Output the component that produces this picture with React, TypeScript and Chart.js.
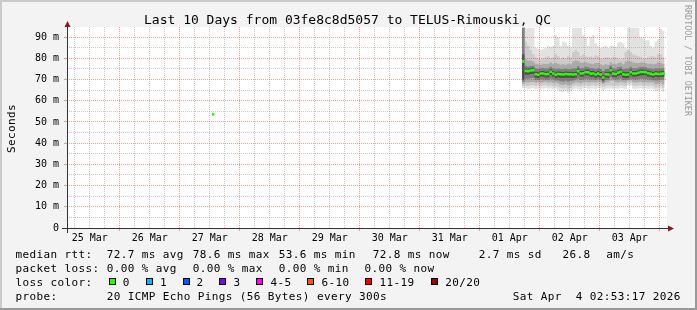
import React, { useEffect, useRef } from 'react';
import { Chart, registerables } from 'chart.js';

Chart.register(...registerables);

const W = 697;
const H = 310;
const MONO = '"DejaVu Sans Mono", "Liberation Mono", monospace';

// ---------- text ----------
const titleText = 'Last 10 Days from 03fe8c8d5057 to TELUS-Rimouski, QC';
const yAxisTitle = 'Seconds';
const watermark = 'RRDTOOL / TOBI OETIKER';
const rttLabel = 'median rtt:';
const rttStats = ['72.7 ms avg', '78.6 ms max', '53.6 ms min', '72.8 ms now', '2.7 ms sd', '26.8', 'am/s'];
const lossLabel = 'packet loss:';
const lossStats = ['0.00 % avg', '0.00 % max', '0.00 % min', '0.00 % now'];
const lossColorLabel = 'loss color:';
const lossLabels = ['0', '1', '2', '3', '4-5', '6-10', '11-19', '20/20'];
const lossColors = ['#26ff00', '#00b8ff', '#0059ff', '#7e00ff', '#ff00ff', '#ff5500', '#ff0000', '#a10000'];
const probeLabel = 'probe:';
const probeText = '20 ICMP Echo Pings (56 Bytes) every 300s';
const timestampText = 'Sat Apr  4 02:53:17 2026';

// ---------- axes ----------
// x = hours since Wed Mar 25 02:53:17 2026 (10 day window)
const rangeHours = 240;
const firstSixHourMark = 3.1119; // Mar 25 06:00
const dayLabels = ['25 Mar', '26 Mar', '27 Mar', '28 Mar', '29 Mar', '30 Mar', '31 Mar', '01 Apr', '02 Apr', '03 Apr'];
// 6-hourly marks: 06:00, 12:00 (labelled), 18:00 minor; 00:00 major
const xMinorHours: number[] = [];
const xMinorLabels: string[] = [];
const xMajorHours: number[] = [];
for (let k = 0; firstSixHourMark + 6 * k < rangeHours; k++) {
  const t = firstSixHourMark + 6 * k;
  if (k % 4 === 3) {
    xMajorHours.push(t);
  } else {
    xMinorHours.push(t);
    xMinorLabels.push(k % 4 === 1 ? dayLabels[(k - 1) / 4] ?? '' : '');
  }
}

const yMax = 94.8;
const yMajorValues = [0, 10, 20, 30, 40, 50, 60, 70, 80, 90];
const yMajorLabels = ['0', '10 m', '20 m', '30 m', '40 m', '50 m', '60 m', '70 m', '80 m', '90 m'];
const yMinorValues = [5, 15, 25, 35, 45, 55, 65, 75, 85];

// ---------- data (ms) ----------
const isolatedHour = 58;
const isolatedMedian = 53.6;

const smokeStartHour = 182; // hourly bins from here

const median = [
  78.6, 74.1, 74.0, 74.3, 74.4, 72.5, 72.3, 72.9, 72.9, 72.5,
  72.6, 73.7, 72.9, 72.3, 72.6, 72.5, 72.4, 72.6, 72.5, 72.5,
  72.4, 72.5, 74.0, 72.9, 73.0, 73.6, 73.4, 72.8, 72.9, 72.4,
  72.8, 72.4, 71.0, 72.5, 72.4, 74.4, 72.8, 72.6, 73.3, 73.7,
  72.5, 72.3, 72.4, 73.5, 72.9, 72.9, 73.2, 73.6, 73.6, 73.5,
  73.0, 72.7, 72.4, 72.8, 72.6, 72.7, 72.8,
];

const hi1 = [
  94.5, 94.5, 94.5, 94.5, 94.5, 85.0, 84.5, 84.0, 84.5, 85.0,
  86.0, 85.5, 86.0, 91.0, 90.0, 86.0, 88.0, 87.5, 86.0, 85.5,
  94.5, 94.5, 94.5, 94.5, 91.0, 90.0, 86.0, 90.0, 91.0, 87.0,
  86.0, 85.0, 85.5, 86.0, 85.0, 86.0, 86.0, 85.5, 87.5, 87.8,
  87.0, 85.0, 94.5, 94.5, 94.5, 94.5, 94.5, 90.0, 89.5, 88.5,
  88.5, 86.0, 85.0, 88.0, 89.0, 94.0, 93.0,
];
const lo1 = [
  66.0, 65.8, 65.5, 65.8, 66.0, 65.6, 65.8, 65.5, 65.8, 66.0,
  65.6, 65.8, 65.4, 65.8, 65.0, 64.3, 64.2, 64.6, 63.8, 64.5,
  65.2, 65.8, 65.6, 65.0, 65.8, 66.0, 65.5, 65.8, 65.8, 65.6,
  66.0, 65.8, 64.8, 65.5, 65.8, 65.8, 65.6, 65.8, 65.6, 66.0,
  65.8, 65.5, 67.2, 67.2, 65.8, 65.5, 65.8, 66.0, 65.6, 65.8,
  65.6, 65.8, 65.5, 64.5, 64.8, 65.6, 64.3,
];
const hi2 = [
  94.5, 88.0, 86.0, 84.0, 82.0, 80.5, 80.0, 79.5, 80.0, 80.5,
  81.0, 80.0, 80.5, 82.0, 81.0, 80.0, 80.5, 80.0, 81.0, 80.5,
  83.0, 84.0, 83.0, 81.0, 82.0, 81.0, 80.5, 81.0, 80.5, 81.5,
  81.0, 80.0, 80.0, 80.5, 80.5, 80.0, 80.5, 80.5, 80.0, 79.5,
  80.0, 83.0, 84.0, 83.0, 82.0, 81.5, 81.0, 80.5, 80.0, 80.0,
  80.5, 81.0, 81.0, 80.5, 82.0, 82.0, 80.5,
];
const lo2 = [
  67.0, 67.2, 67.0, 67.3, 67.5, 67.0, 67.2, 67.0, 67.3, 67.4,
  67.0, 67.2, 66.8, 67.0, 66.5, 66.0, 65.8, 66.2, 65.5, 66.0,
  66.8, 67.2, 67.0, 66.8, 67.2, 67.4, 67.0, 67.2, 67.3, 67.0,
  67.4, 67.2, 66.5, 67.0, 67.2, 67.2, 67.0, 67.2, 67.0, 67.4,
  67.2, 67.0, 68.2, 68.4, 67.2, 67.0, 67.2, 67.4, 67.0, 67.2,
  67.0, 67.2, 67.0, 66.2, 66.4, 67.0, 66.0,
];
const hi3 = [
  94.5, 79.5, 79.0, 79.0, 78.5, 77.5, 77.2, 77.0, 77.5, 77.3,
  77.5, 78.0, 77.5, 77.8, 77.5, 77.0, 77.2, 77.0, 77.5, 77.2,
  78.5, 79.0, 78.8, 77.8, 78.0, 78.2, 77.8, 77.5, 77.5, 77.8,
  77.8, 77.2, 76.8, 77.2, 77.0, 78.0, 77.5, 77.2, 77.8, 78.0,
  77.2, 78.5, 79.0, 78.5, 78.0, 77.8, 77.8, 78.0, 78.0, 77.8,
  77.5, 77.5, 77.2, 77.5, 78.0, 77.8, 77.5,
];
const lo3 = [
  68.0, 68.8, 68.6, 68.9, 69.0, 68.6, 68.8, 68.5, 68.8, 69.0,
  68.6, 68.8, 68.4, 68.6, 68.2, 67.6, 67.4, 67.8, 67.2, 67.6,
  68.2, 68.8, 68.6, 68.2, 68.8, 69.0, 68.6, 68.8, 68.8, 68.6,
  69.0, 68.8, 68.0, 68.6, 68.8, 69.4, 69.6, 68.8, 68.6, 69.0,
  68.8, 68.6, 69.4, 69.6, 68.8, 68.6, 68.8, 69.0, 68.6, 68.8,
  68.6, 68.8, 68.6, 67.8, 68.0, 68.6, 67.8,
];
const hi4 = [
  94.5, 76.5, 76.2, 76.4, 76.5, 75.2, 75.0, 75.4, 75.5, 75.2,
  75.3, 76.0, 75.4, 75.0, 75.2, 75.0, 75.0, 75.2, 75.0, 75.0,
  75.2, 75.4, 76.3, 75.4, 75.5, 76.0, 75.8, 75.3, 75.4, 75.0,
  75.3, 75.0, 74.0, 75.0, 75.0, 76.5, 75.3, 75.2, 75.8, 76.0,
  75.0, 75.2, 75.2, 76.0, 75.4, 75.4, 75.6, 76.0, 76.0, 75.8,
  75.4, 75.2, 75.0, 75.3, 75.2, 75.2, 75.3,
];
const lo4 = [
  69.0, 70.5, 70.4, 70.6, 70.7, 69.8, 69.8, 70.0, 70.2, 69.9,
  69.8, 70.4, 70.0, 69.6, 69.6, 69.2, 69.0, 69.4, 69.0, 69.3,
  69.6, 70.0, 70.4, 69.8, 70.0, 70.4, 70.2, 70.0, 70.0, 69.8,
  70.1, 69.8, 68.8, 69.8, 69.8, 71.0, 70.3, 70.0, 70.2, 70.5,
  69.8, 69.8, 69.9, 70.4, 70.1, 70.0, 70.2, 70.4, 70.4, 70.3,
  70.0, 69.9, 69.7, 69.6, 69.6, 69.9, 70.0,
];
const hi5 = [
  82.0, 75.3, 75.2, 75.5, 75.6, 73.7, 73.5, 74.1, 74.1, 73.7,
  73.8, 74.9, 74.1, 73.5, 73.8, 73.7, 73.6, 73.8, 73.7, 73.7,
  73.6, 73.7, 75.2, 74.1, 74.2, 74.8, 74.6, 74.0, 74.1, 73.6,
  74.0, 73.6, 72.2, 73.7, 73.6, 75.6, 74.0, 73.8, 74.5, 74.9,
  73.7, 73.5, 73.6, 74.7, 74.1, 74.1, 74.4, 74.8, 74.8, 74.7,
  74.2, 73.9, 73.6, 74.0, 73.8, 73.9, 74.0,
];
const lo5 = [
  70.0, 72.4, 72.3, 72.6, 72.7, 71.0, 70.8, 71.4, 71.4, 71.0,
  71.1, 72.2, 71.4, 70.8, 71.0, 70.8, 70.7, 70.9, 70.8, 70.8,
  70.8, 71.0, 72.4, 71.4, 71.5, 72.1, 71.9, 71.3, 71.4, 70.9,
  71.3, 70.9, 69.6, 71.0, 70.9, 72.8, 71.3, 71.1, 71.8, 72.2,
  71.0, 70.8, 70.9, 72.0, 71.4, 71.4, 71.7, 72.1, 72.1, 72.0,
  71.5, 71.2, 70.9, 71.3, 71.1, 71.2, 71.3,
];

const smokeBands = [
  { lo: lo1, hi: hi1, color: '#e2e2e2' },
  { lo: lo2, hi: hi2, color: '#cbcbcb' },
  { lo: lo3, hi: hi3, color: '#aaaaaa' },
  { lo: lo4, hi: hi4, color: '#7f7f7f' },
  { lo: lo5, hi: hi5, color: '#4f4f4f' },
];

// ---------- helpers ----------
function stepPoints(values: number[], start: number) {
  const pts: { x: number; y: number | null }[] = [];
  values.forEach((v, i) => {
    pts.push({ x: start + i, y: v }, { x: start + i + 1, y: v });
  });
  return pts;
}
function blockPoints(values: number[], start: number) {
  const pts: { x: number; y: number | null }[] = [];
  values.forEach((v, i) => {
    pts.push({ x: start + i, y: v }, { x: start + i + 1, y: v }, { x: start + i + 1, y: null });
  });
  return pts;
}

const MGRID = 'rgba(230,40,40,0.45)';
const GRID = 'rgba(140,140,140,0.45)';
const NONE = 'rgba(0,0,0,0)';

const rrdPlugin = {
  id: 'rrdDecor',
  beforeDraw(chart: any) {
    const ctx = chart.ctx as CanvasRenderingContext2D;
    const { left, right, top, bottom } = chart.chartArea;
    ctx.save();
    ctx.fillStyle = '#f3f3f3';
    ctx.fillRect(0, 0, W, H);
    ctx.fillStyle = '#cbcbcb';
    ctx.fillRect(0, 0, W, 2);
    ctx.fillRect(0, 0, 2, H);
    ctx.fillStyle = '#999999';
    ctx.fillRect(0, H - 2, W, 2);
    ctx.fillRect(W - 2, 0, 2, H);
    ctx.fillStyle = '#ffffff';
    ctx.fillRect(left, top, right - left, bottom - top);
    ctx.restore();
  },
  afterDraw(chart: any) {
    const ctx = chart.ctx as CanvasRenderingContext2D;
    const { left, right, top, bottom } = chart.chartArea;
    ctx.save();
    // axes
    ctx.strokeStyle = '#333333';
    ctx.lineWidth = 1;
    ctx.beginPath();
    ctx.moveTo(left + 0.5, bottom + 5);
    ctx.lineTo(left + 0.5, top - 1);
    ctx.stroke();
    ctx.beginPath();
    ctx.moveTo(left - 5, bottom + 0.5);
    ctx.lineTo(right + 2, bottom + 0.5);
    ctx.stroke();
    // arrows
    ctx.fillStyle = '#8b1a1a';
    ctx.beginPath();
    ctx.moveTo(left - 2.5, top);
    ctx.lineTo(left + 3.5, top);
    ctx.lineTo(left + 0.5, top - 6);
    ctx.closePath();
    ctx.fill();
    ctx.beginPath();
    ctx.moveTo(right + 1, bottom - 2.5);
    ctx.lineTo(right + 1, bottom + 3.5);
    ctx.lineTo(right + 7, bottom + 0.5);
    ctx.closePath();
    ctx.fill();

    // title
    ctx.fillStyle = '#000000';
    ctx.textBaseline = 'alphabetic';
    ctx.textAlign = 'center';
    ctx.font = `13px ${MONO}`;
    ctx.fillText(titleText, 347.5, 24);

    // y axis title
    ctx.save();
    ctx.translate(14.5, 128.5);
    ctx.rotate(-Math.PI / 2);
    ctx.font = `11px ${MONO}`;
    (ctx as any).letterSpacing = '0.38px';
    ctx.textAlign = 'center';
    ctx.fillText(yAxisTitle, 0, 0);
    ctx.restore();

    // watermark
    ctx.save();
    ctx.translate(684.5, 5);
    ctx.rotate(Math.PI / 2);
    ctx.font = `8.4px ${MONO}`;
    ctx.textAlign = 'left';
    ctx.fillStyle = '#9a9a9a';
    ctx.fillText(watermark, 0, 0);
    ctx.restore();

    // legend (11px mono with hinted 7px advance)
    ctx.font = `11px ${MONO}`;
    (ctx as any).letterSpacing = '0.38px';
    ctx.textAlign = 'left';
    ctx.fillStyle = '#000000';
    const rowY = [258.3, 272, 285.8, 299.8];
    ctx.fillText(rttLabel, 15.5, rowY[0]);
    const rttX = [106.8, 192.8, 278.8, 372.8, 478.8, 562.5, 606.2];
    rttStats.forEach((s, i) => ctx.fillText(s, rttX[i], rowY[0]));
    ctx.fillText(lossLabel, 15.5, rowY[1]);
    const lossX = [106.8, 192.8, 278.8, 364.5];
    lossStats.forEach((s, i) => ctx.fillText(s, lossX[i], rowY[1]));
    ctx.fillText(lossColorLabel, 15.5, rowY[2]);
    const boxX = [109, 146, 183, 219, 256, 307, 365, 431];
    const textX = [122.8, 160, 196.6, 233.4, 270.6, 321.6, 379.6, 445.2];
    lossLabels.forEach((s, i) => {
      ctx.fillStyle = lossColors[i];
      ctx.fillRect(boxX[i], 278, 7, 7);
      ctx.strokeStyle = '#000000';
      ctx.strokeRect(boxX[i] + 0.5, 278.5, 6, 6);
      ctx.fillStyle = '#000000';
      ctx.fillText(s, textX[i], rowY[2]);
    });
    ctx.fillText(probeLabel, 15.5, rowY[3]);
    ctx.fillText(probeText, 106.8, rowY[3]);
    ctx.fillText(timestampText, 512.8, rowY[3]);
    (ctx as any).letterSpacing = '0px';
    ctx.restore();
  },
};

function buildDatasets() {
  const ds: any[] = [];
  const n = smokeBands.length;
  smokeBands.forEach((b, i) => {
    const order = n + 1 - i;
    ds.push({
      data: stepPoints(b.lo, smokeStartHour),
      borderColor: NONE,
      borderWidth: 0,
      pointRadius: 0,
      fill: false,
      order,
    });
    ds.push({
      data: stepPoints(b.hi, smokeStartHour),
      borderColor: NONE,
      borderWidth: 0,
      pointRadius: 0,
      backgroundColor: b.color,
      fill: '-1',
      order,
    });
  });
  ds.push({
    data: blockPoints(median, smokeStartHour),
    borderColor: lossColors[0],
    borderWidth: 2.6,
    borderCapStyle: 'butt',
    pointRadius: 0,
    fill: false,
    spanGaps: false,
    order: 1,
  });
  ds.push({
    data: blockPoints([isolatedMedian], isolatedHour),
    borderColor: lossColors[0],
    borderWidth: 2.6,
    borderCapStyle: 'butt',
    pointRadius: 0,
    fill: false,
    spanGaps: false,
    order: 0,
  });
  return ds;
}

const tickFont = { family: MONO, size: 10 };

export default function App() {
  const ref = useRef<HTMLCanvasElement>(null);
  useEffect(() => {
    if (!ref.current) return;
    const chart = new Chart(ref.current, {
      type: 'line',
      data: { datasets: buildDatasets() },
      plugins: [rrdPlugin],
      options: {
        responsive: false,
        animation: false,
        devicePixelRatio: 1,
        layout: { padding: { left: 0, top: 27, right: 30, bottom: 0 } },
        plugins: {
          legend: { display: false },
          tooltip: { enabled: false },
          title: { display: false },
        },
        elements: { point: { radius: 0 }, line: { tension: 0 } },
        scales: {
          // minor x grid (grey) + day labels
          x: {
            type: 'linear',
            position: 'bottom',
            weight: 1,
            min: 0,
            max: rangeHours,
            afterBuildTicks: (s: any) => {
              s.ticks = xMinorHours.map((v) => ({ value: v }));
            },
            afterFit: (s: any) => {
              s.height = H - 228;
            },
            ticks: {
              autoSkip: false,
              maxRotation: 0,
              minRotation: 0,
              padding: 4,
              color: '#000000',
              font: tickFont,
              callback: (_v: any, index: number) => xMinorLabels[index] ?? '',
            },
            grid: { z: 1, lineWidth: 1, color: GRID, drawTicks: false, tickLength: 0 },
            border: { display: false, dash: [1, 1] },
          },
          // major x grid (red, midnight)
          xMajor: {
            type: 'linear',
            position: 'bottom',
            weight: 0,
            min: 0,
            max: rangeHours,
            afterBuildTicks: (s: any) => {
              s.ticks = xMajorHours.map((v) => ({ value: v }));
            },
            afterFit: (s: any) => {
              s.height = 0;
            },
            ticks: { display: false },
            grid: { z: 1, lineWidth: 1, color: MGRID, tickColor: MGRID, tickLength: 3, tickBorderDash: [] },
            border: { display: false, dash: [1, 1] },
          },
          // major y grid (red) + labels
          y: {
            type: 'linear',
            position: 'left',
            weight: 1,
            min: 0,
            max: yMax,
            afterBuildTicks: (s: any) => {
              s.ticks = yMajorValues.map((v) => ({ value: v }));
            },
            afterFit: (s: any) => {
              s.width = 67;
            },
            ticks: {
              autoSkip: false,
              padding: 5,
              color: '#000000',
              font: tickFont,
              callback: (_v: any, index: number) => yMajorLabels[index] ?? '',
            },
            grid: { z: 1, lineWidth: 1, color: MGRID, tickColor: MGRID, tickLength: 3, tickBorderDash: [] },
            border: { display: false, dash: [1, 1] },
          },
          // minor y grid (grey)
          yMinor: {
            type: 'linear',
            position: 'left',
            weight: 0,
            min: 0,
            max: yMax,
            afterBuildTicks: (s: any) => {
              s.ticks = yMinorValues.map((v) => ({ value: v }));
            },
            afterFit: (s: any) => {
              s.width = 0;
            },
            ticks: { display: false },
            grid: { z: 1, lineWidth: 1, color: GRID, drawTicks: false, tickLength: 0 },
            border: { display: false, dash: [1, 1] },
          },
        },
      } as any,
    });
    return () => chart.destroy();
  }, []);
  return (
    <div style={{ position: 'absolute', left: 0, top: 0, width: W, height: H }}>
      <canvas ref={ref} width={W} height={H} style={{ display: 'block', width: W, height: H }} />
    </div>
  );
}
